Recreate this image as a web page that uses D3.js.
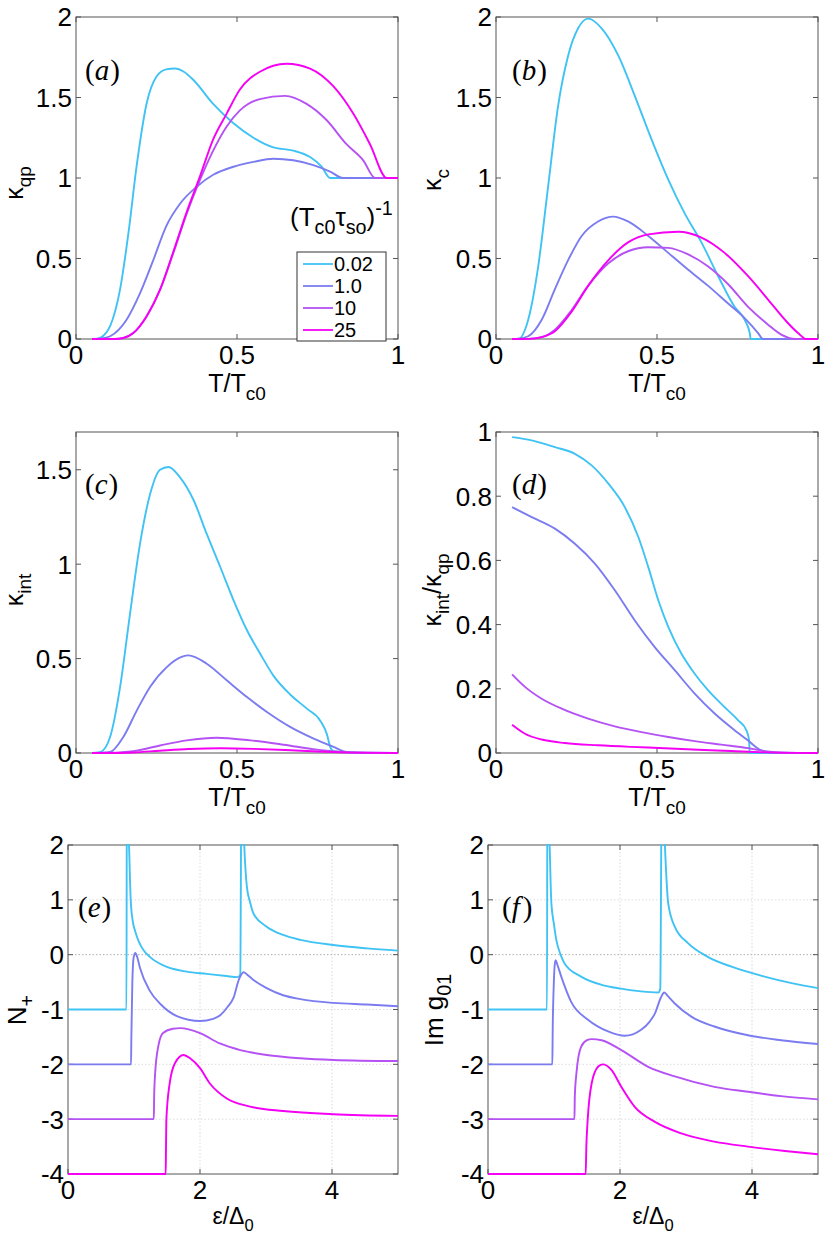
<!DOCTYPE html>
<html>
<head>
<meta charset="utf-8">
<script src="https://cdn.jsdelivr.net/npm/d3@7"></script>
<style>
  body { margin: 0; background: #fff; }
  svg { display: block; }
</style>
</head>
<body>
<div id="chart"></div>
<script>
// series: (T_c0 tau_so)^-1 values
const seriesLabels = ["0.02", "1.0", "10", "25"];
const seriesColors = ["#3fc3f4", "#7b7cf0", "#b552f3", "#f500f5"];

// tick values / labels
const tTicks = [0, 0.5, 1];
const tTickLabels = ["0", "0.5", "1"];
const eTicks = [0, 2, 4];
const eTickLabels = ["0", "2", "4"];
const qpTicks = [0, 0.5, 1, 1.5, 2];
const qpTickLabels = ["0", "0.5", "1", "1.5", "2"];
const intTicks = [0, 0.5, 1, 1.5];
const intTickLabels = ["0", "0.5", "1", "1.5"];
const ratioTicks = [0, 0.2, 0.4, 0.6, 0.8, 1];
const ratioTickLabels = ["0", "0.2", "0.4", "0.6", "0.8", "1"];
const dosTicks = [-4, -3, -2, -1, 0, 1, 2];
const dosTickLabels = ["-4", "-3", "-2", "-1", "0", "1", "2"];

// (a) kappa_qp vs T/Tc0
const kappaQp = [
  [[0.05,0],[0.064,0],[0.085,0.02],[0.106,0.08],[0.137,0.31],[0.163,0.66],[0.188,1.07],[0.219,1.46],[0.25,1.63],[0.28,1.675],[0.307,1.68],[0.335,1.66],[0.364,1.61],[0.426,1.46],[0.489,1.34],[0.551,1.25],[0.613,1.19],[0.675,1.17],[0.727,1.13],[0.763,1.07],[0.789,1.0],[1,1]],
  [[0.05,0],[0.08,0.003],[0.106,0.017],[0.157,0.12],[0.199,0.285],[0.24,0.49],[0.28,0.70],[0.323,0.84],[0.375,0.946],[0.426,1.02],[0.489,1.07],[0.551,1.10],[0.613,1.12],[0.675,1.11],[0.737,1.08],[0.789,1.04],[0.83,1.0],[1,1]],
  [[0.05,0],[0.12,0],[0.147,0.006],[0.178,0.037],[0.219,0.14],[0.261,0.306],[0.302,0.533],[0.344,0.78],[0.385,0.988],[0.426,1.17],[0.468,1.32],[0.509,1.42],[0.571,1.49],[0.649,1.51],[0.716,1.46],[0.778,1.36],[0.84,1.21],[0.892,1.11],[0.929,1.0],[1,1]],
  [[0.05,0],[0.12,0],[0.147,0.006],[0.178,0.037],[0.219,0.14],[0.261,0.306],[0.302,0.54],[0.344,0.79],[0.385,1.01],[0.426,1.24],[0.468,1.40],[0.509,1.55],[0.571,1.66],[0.654,1.71],[0.727,1.68],[0.799,1.57],[0.861,1.40],[0.913,1.21],[0.965,1.0],[1,1]]
];

// (b) kappa_c vs T/Tc0
const kappaC = [
  [[0.05,0],[0.069,0],[0.1,0.12],[0.131,0.45],[0.162,0.95],[0.193,1.45],[0.224,1.76],[0.255,1.93],[0.286,1.99],[0.328,1.93],[0.38,1.76],[0.431,1.51],[0.483,1.24],[0.535,0.99],[0.586,0.78],[0.638,0.60],[0.69,0.39],[0.741,0.20],[0.772,0.12],[0.788,0.037],[0.791,0],[1,0]],
  [[0.05,0],[0.07,0.002],[0.1,0.017],[0.142,0.12],[0.183,0.31],[0.224,0.49],[0.266,0.64],[0.317,0.73],[0.364,0.76],[0.41,0.73],[0.473,0.64],[0.535,0.535],[0.597,0.43],[0.659,0.33],[0.721,0.22],[0.772,0.13],[0.814,0.037],[0.829,0],[1,0]],
  [[0.05,0],[0.1,0.001],[0.142,0.012],[0.183,0.058],[0.235,0.18],[0.286,0.33],[0.349,0.47],[0.41,0.545],[0.473,0.57],[0.535,0.566],[0.597,0.525],[0.659,0.45],[0.721,0.34],[0.783,0.20],[0.845,0.089],[0.886,0.027],[0.93,0],[1,0]],
  [[0.05,0],[0.1,0.001],[0.142,0.012],[0.183,0.048],[0.235,0.17],[0.286,0.33],[0.349,0.49],[0.41,0.60],[0.473,0.65],[0.566,0.666],[0.638,0.63],[0.71,0.535],[0.783,0.39],[0.845,0.245],[0.897,0.12],[0.938,0.037],[0.964,0],[1,0]]
];

// (c) kappa_int vs T/Tc0
const kappaInt = [
  [[0.05,0],[0.075,0.005],[0.106,0.085],[0.137,0.35],[0.168,0.74],[0.199,1.11],[0.23,1.37],[0.261,1.50],[0.287,1.515],[0.323,1.46],[0.365,1.34],[0.406,1.16],[0.448,0.985],[0.489,0.81],[0.531,0.65],[0.572,0.526],[0.613,0.41],[0.665,0.31],[0.717,0.235],[0.759,0.17],[0.779,0.10],[0.79,0.03],[0.8,0.01],[0.85,0.002],[1,0]],
  [[0.05,0],[0.08,0.001],[0.106,0.005],[0.147,0.085],[0.189,0.226],[0.23,0.35],[0.282,0.455],[0.33,0.51],[0.349,0.517],[0.406,0.473],[0.468,0.385],[0.531,0.296],[0.593,0.217],[0.665,0.138],[0.738,0.076],[0.8,0.032],[0.841,0.005],[0.9,0],[1,0]],
  [[0.05,0],[0.1,0.001],[0.178,0.01],[0.261,0.04],[0.344,0.067],[0.437,0.081],[0.541,0.067],[0.645,0.044],[0.748,0.018],[0.85,0.004],[1,0]],
  [[0.05,0],[0.1,0],[0.178,0.003],[0.26,0.012],[0.35,0.021],[0.45,0.025],[0.55,0.022],[0.65,0.016],[0.75,0.008],[0.85,0.002],[1,0]]
];

// (d) kappa_int / kappa_qp vs T/Tc0
const kappaRatio = [
  [[0.05,0.984],[0.111,0.974],[0.183,0.953],[0.245,0.932],[0.297,0.896],[0.349,0.839],[0.40,0.766],[0.442,0.673],[0.473,0.579],[0.504,0.476],[0.535,0.393],[0.576,0.309],[0.617,0.247],[0.659,0.195],[0.71,0.143],[0.752,0.102],[0.778,0.07],[0.786,0.039],[0.788,0],[1,0]],
  [[0.05,0.766],[0.111,0.735],[0.183,0.699],[0.245,0.652],[0.307,0.59],[0.369,0.507],[0.431,0.413],[0.493,0.33],[0.555,0.258],[0.617,0.185],[0.679,0.123],[0.741,0.071],[0.783,0.039],[0.824,0.008],[0.866,0.001],[1,0]],
  [[0.05,0.245],[0.09,0.206],[0.142,0.169],[0.204,0.138],[0.286,0.107],[0.369,0.083],[0.452,0.065],[0.535,0.05],[0.617,0.037],[0.7,0.026],[0.783,0.015],[0.834,0.006],[0.886,0.002],[1,0]],
  [[0.05,0.088],[0.09,0.06],[0.142,0.042],[0.214,0.031],[0.317,0.024],[0.421,0.019],[0.524,0.015],[0.628,0.010],[0.731,0.006],[0.834,0.002],[1,0]]
];

// (e) N+ vs eps/Delta0 (curves offset by -1 each)
const dosN = [
  [[0,-1],[0.886,-1],[0.892,3.5],[0.925,2.0],[0.95,1.0],[0.98,0.62],[1.02,0.42],[1.08,0.22],[1.14,0.09],[1.24,-0.04],[1.49,-0.22],[1.8,-0.31],[2.1,-0.35],[2.4,-0.39],[2.57,-0.41],[2.61,-0.36],[2.63,3.5],[2.67,2.0],[2.71,1.24],[2.76,0.95],[2.81,0.75],[3.01,0.51],[3.26,0.36],[3.52,0.27],[4.02,0.176],[4.53,0.115],[5,0.073]],
  [[0,-2],[0.955,-2],[0.96,-1.5],[0.975,-0.5],[0.995,-0.05],[1.02,0.03],[1.05,-0.05],[1.09,-0.24],[1.24,-0.66],[1.40,-0.90],[1.65,-1.12],[2.0,-1.21],[2.2,-1.17],[2.31,-1.10],[2.42,-0.95],[2.51,-0.78],[2.59,-0.45],[2.66,-0.32],[2.72,-0.37],[2.81,-0.46],[3.01,-0.61],[3.26,-0.74],[3.52,-0.81],[4.02,-0.88],[4.53,-0.91],[5,-0.94]],
  [[0,-3],[1.30,-3],[1.305,-2.6],[1.32,-2.17],[1.37,-1.66],[1.44,-1.43],[1.59,-1.35],[1.70,-1.34],[2.0,-1.43],[2.3,-1.62],[2.61,-1.74],[3.01,-1.83],[3.52,-1.89],[4.02,-1.92],[5,-1.94]],
  [[0,-4],[1.48,-4],[1.485,-3.5],[1.49,-3.02],[1.54,-2.35],[1.62,-1.98],[1.75,-1.83],[1.85,-1.89],[2.0,-2.07],[2.15,-2.35],[2.4,-2.62],[2.76,-2.77],[3.26,-2.85],[4.02,-2.91],[5,-2.94]]
];

// (f) Im g01 vs eps/Delta0 (curves offset by -1 each)
const imG01 = [
  [[0,-1],[0.894,-1],[0.9,3.5],[0.934,2.0],[0.96,0.94],[1.0,0.55],[1.035,0.27],[1.1,0.0],[1.16,-0.16],[1.41,-0.40],[1.72,-0.55],[2.02,-0.62],[2.32,-0.67],[2.58,-0.69],[2.61,-0.62],[2.635,3.5],[2.68,2.0],[2.73,0.94],[2.83,0.51],[3.03,0.21],[3.33,-0.04],[3.69,-0.22],[4.19,-0.40],[4.6,-0.52],[5,-0.61]],
  [[0,-2],[0.975,-2],[0.98,-1.4],[0.995,-0.6],[1.01,-0.2],[1.025,-0.10],[1.05,-0.18],[1.11,-0.40],[1.26,-0.86],[1.52,-1.19],[1.82,-1.40],[2.07,-1.48],[2.32,-1.37],[2.45,-1.22],[2.53,-1.07],[2.62,-0.78],[2.67,-0.69],[2.73,-0.76],[2.83,-0.89],[3.08,-1.13],[3.43,-1.31],[3.94,-1.47],[4.44,-1.56],[5,-1.63]],
  [[0,-3],[1.31,-3],[1.315,-2.6],[1.34,-2.16],[1.41,-1.68],[1.50,-1.56],[1.57,-1.54],[1.72,-1.56],[2.02,-1.74],[2.42,-2.04],[2.83,-2.22],[3.43,-2.41],[3.94,-2.50],[4.44,-2.58],[5,-2.64]],
  [[0,-4],[1.48,-4],[1.49,-3.5],[1.51,-3.02],[1.57,-2.35],[1.67,-2.04],[1.74,-2.0],[1.87,-2.10],[2.02,-2.41],[2.22,-2.77],[2.53,-3.05],[2.93,-3.26],[3.43,-3.41],[3.94,-3.50],[4.5,-3.58],[5,-3.64]]
];

const W = 830, H = 1238;
const sans = "Liberation Sans, Arial, Helvetica, sans-serif";
const serif = "Liberation Serif, Times New Roman, serif";
const frameColor = "#555";

const tLabel = [["T/T"], ["c0", "sub"]];
const eLabel = [["ε/Δ"], ["0", "sub"]];

const panels = [
  { tag: "a", box: [76, 398, 17, 339], xDom: [0, 1], yDom: [0, 2], xt: tTicks, xtl: tTickLabels, yt: qpTicks, ytl: qpTickLabels,
    data: kappaQp, ylab: [["κ"], ["qp", "sub"]], ylabPos: [23, 183], xlab: tLabel, xlabY: 392, tagPos: [85, 80] },
  { tag: "b", box: [496, 818, 17, 339], xDom: [0, 1], yDom: [0, 2], xt: tTicks, xtl: tTickLabels, yt: qpTicks, ytl: qpTickLabels,
    data: kappaC, ylab: [["κ"], ["c", "sub"]], ylabPos: [441, 180], xlab: tLabel, xlabY: 392, tagPos: [512, 80] },
  { tag: "c", box: [76, 398, 432, 753], xDom: [0, 1], yDom: [0, 1.7], xt: tTicks, xtl: tTickLabels, yt: intTicks, ytl: intTickLabels,
    data: kappaInt, ylab: [["κ"], ["int", "sub"]], ylabPos: [23, 590], xlab: tLabel, xlabY: 806, tagPos: [85, 494] },
  { tag: "d", box: [496, 818, 432, 753], xDom: [0, 1], yDom: [0, 1], xt: tTicks, xtl: tTickLabels, yt: ratioTicks, ytl: ratioTickLabels,
    data: kappaRatio, ylab: [["κ"], ["int", "sub"], ["/κ"], ["qp", "sub"]], ylabPos: [441, 590], xlab: tLabel, xlabY: 806, tagPos: [512, 494] },
  { tag: "e", box: [68, 398, 845, 1174], xDom: [0, 5], yDom: [-4, 2], xt: eTicks, xtl: eTickLabels, yt: dosTicks, ytl: dosTickLabels,
    data: dosN, ylab: [["N"], ["+", "sub"]], ylabPos: [26, 1010], xlab: eLabel, xlabY: 1224, tagPos: [78, 917], grid: true },
  { tag: "f", box: [488, 818, 845, 1174], xDom: [0, 5], yDom: [-4, 2], xt: eTicks, xtl: eTickLabels, yt: dosTicks, ytl: dosTickLabels,
    data: imG01, ylab: [["Im g"], ["01", "sub"]], ylabPos: [443, 1010], xlab: eLabel, xlabY: 1224, tagPos: [502, 917], grid: true }
];

// text with sub/superscript tspans
function rich(sel, parts, size, subScale = 0.72) {
  let shift = 0;
  parts.forEach(([s, kind]) => {
    const target = kind === "sub" ? 0.3 * size : kind === "sup" ? -0.42 * size : 0;
    sel.append("tspan")
      .attr("dy", target - shift)
      .attr("font-size", kind ? size * subScale : size)
      .text(s);
    shift = target;
  });
}

const svg = d3.select("#chart").append("svg")
  .attr("width", W).attr("height", H)
  .attr("viewBox", `0 0 ${W} ${H}`);

panels.forEach(p => {
  const [x0, x1, y0, y1] = p.box;
  const x = d3.scaleLinear().domain(p.xDom).range([x0, x1]);
  const y = d3.scaleLinear().domain(p.yDom).range([y1, y0]);
  const g = svg.append("g");

  const clipId = "clip-" + p.tag;
  svg.append("clipPath").attr("id", clipId)
    .append("rect").attr("x", x0).attr("y", y0 - 1).attr("width", x1 - x0 + 1).attr("height", y1 - y0 + 2);

  // dotted grid (only lower panels)
  if (p.grid) {
    g.selectAll("line.gx").data(p.xt.filter(v => v > p.xDom[0] && v < p.xDom[1])).enter()
      .append("line")
      .attr("x1", d => x(d)).attr("x2", d => x(d)).attr("y1", y0).attr("y2", y1)
      .attr("stroke", "#cfcfcf").attr("stroke-width", 0.8).attr("stroke-dasharray", "1.5,2");
    g.selectAll("line.gy").data(p.yt.filter(v => v > p.yDom[0] && v < p.yDom[1])).enter()
      .append("line")
      .attr("x1", x0).attr("x2", x1).attr("y1", d => y(d)).attr("y2", d => y(d))
      .attr("stroke", d => d === 0 ? "#9a9a9a" : "#d4d4d4").attr("stroke-width", 0.8).attr("stroke-dasharray", "1.5,2");
  }

  // frame with inward ticks on all four sides
  const tl = 5;
  const axisG = g.append("g").attr("stroke", frameColor).attr("stroke-width", 1).attr("fill", "none");
  axisG.append("rect").attr("x", x0).attr("y", y0).attr("width", x1 - x0).attr("height", y1 - y0);
  p.xt.forEach(v => {
    axisG.append("line").attr("x1", x(v)).attr("x2", x(v)).attr("y1", y1).attr("y2", y1 - tl);
    axisG.append("line").attr("x1", x(v)).attr("x2", x(v)).attr("y1", y0).attr("y2", y0 + tl);
  });
  p.yt.forEach(v => {
    axisG.append("line").attr("x1", x0).attr("x2", x0 + tl).attr("y1", y(v)).attr("y2", y(v));
    axisG.append("line").attr("x1", x1).attr("x2", x1 - tl).attr("y1", y(v)).attr("y2", y(v));
  });

  // legend (panel a)
  if (p.tag === "a") {
    const lg = g.append("g");
    lg.append("rect").attr("x", 297).attr("y", 252).attr("width", 89).attr("height", 89)
      .attr("fill", "#fff").attr("stroke", "#333").attr("stroke-width", 1);
    seriesLabels.forEach((lab, i) => {
      const ly = 264 + i * 22;
      lg.append("line").attr("x1", 303).attr("x2", 333).attr("y1", ly).attr("y2", ly)
        .attr("stroke", seriesColors[i]).attr("stroke-width", 1.8);
      lg.append("text").attr("x", 334).attr("y", ly).attr("dy", "0.36em")
        .attr("font-family", sans).attr("font-size", 20).attr("fill", "#000").text(lab);
    });
    const title = lg.append("text").attr("x", 290).attr("y", 226)
      .attr("font-family", sans).attr("font-size", 26).attr("fill", "#000");
    rich(title, [["(T"], ["c0", "sub"], ["τ"], ["so", "sub"], [")"], ["-1", "sup"]], 26, 0.76);
  }

  // curves
  const line = d3.line().x(d => x(d[0])).y(d => y(d[1])).curve(d3.curveMonotoneX);
  g.append("g").attr("clip-path", `url(#${clipId})`)
    .selectAll("path").data(p.data).enter()
    .append("path")
    .attr("d", line)
    .attr("fill", "none")
    .attr("stroke", (d, i) => seriesColors[i])
    .attr("stroke-width", 1.9)
    .attr("stroke-linejoin", "round");

  // tick labels
  g.selectAll("text.xt").data(p.xt).enter().append("text")
    .attr("x", d => x(d)).attr("y", y1 + 25)
    .attr("text-anchor", "middle")
    .attr("font-family", sans).attr("font-size", 26).attr("fill", "#000")
    .text((d, i) => p.xtl[i]);
  g.selectAll("text.yt").data(p.yt).enter().append("text")
    .attr("x", x0 - 4).attr("y", d => y(d)).attr("dy", "0.36em")
    .attr("text-anchor", "end")
    .attr("font-family", sans).attr("font-size", 26).attr("fill", "#000")
    .text((d, i) => p.ytl[i]);

  // axis labels
  const xl = g.append("text")
    .attr("x", (x0 + x1) / 2).attr("y", p.xlabY)
    .attr("text-anchor", "middle")
    .attr("font-family", sans).attr("fill", "#000");
  rich(xl, p.xlab, p.grid ? 23 : 25, p.grid ? 0.72 : 0.76);

  const yl = g.append("text")
    .attr("transform", `translate(${p.ylabPos[0]},${p.ylabPos[1]}) rotate(-90)`)
    .attr("text-anchor", "middle")
    .attr("font-family", sans).attr("fill", "#000");
  rich(yl, p.ylab, p.grid ? 26 : 25, 0.76);

  // panel tag (a)...(f)
  const tg = g.append("text")
    .attr("x", p.tagPos[0]).attr("y", p.tagPos[1])
    .attr("font-family", serif).attr("font-size", 29).attr("fill", "#000");
  tg.append("tspan").text("(");
  tg.append("tspan").attr("font-style", "italic").text(p.tag);
  tg.append("tspan").attr("dx", p.tag === "f" ? 3 : 1).text(")");
});
</script>
</body>
</html>
